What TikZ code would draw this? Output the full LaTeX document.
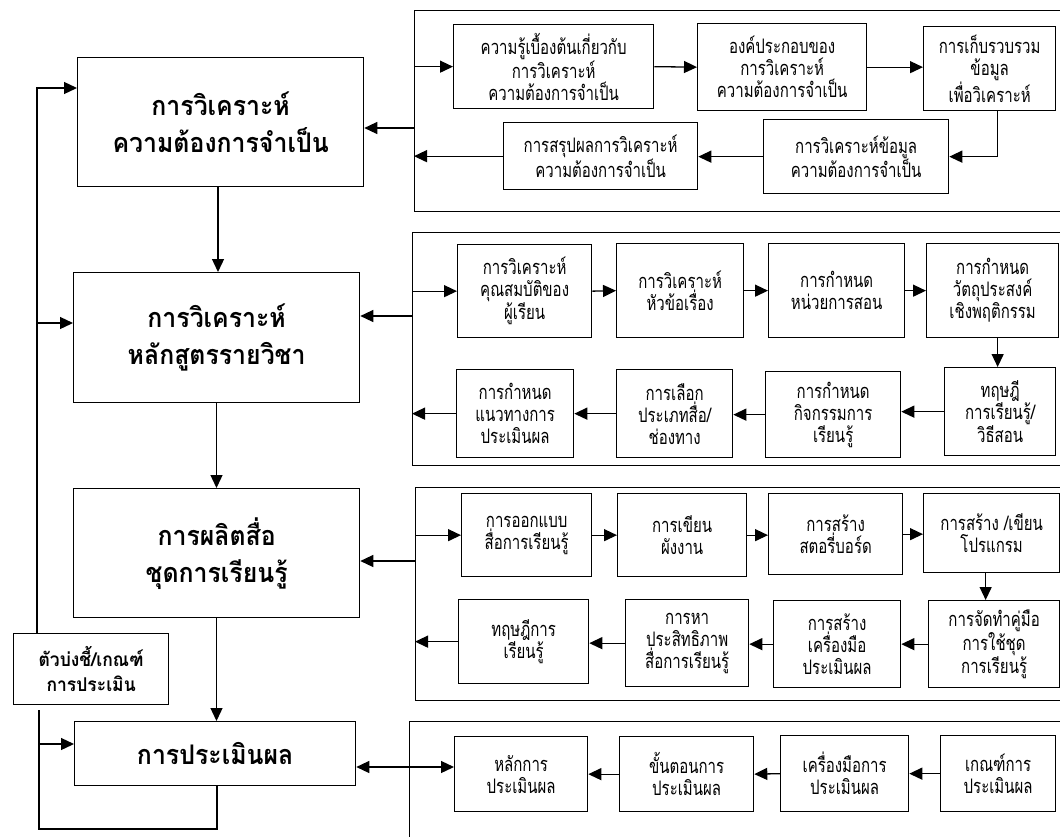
\documentclass[tikz,border=0pt]{standalone}
\usepackage{fontspec}
\usetikzlibrary{arrows.meta}
\newfontfamily\thai[Script=Thai,FakeStretch=0.92]{Loma}
\newfontfamily\thain[Script=Thai,FakeStretch=0.75]{Loma}
\tikzset{
  box/.style={draw, line width=1.3pt, align=center, inner sep=0pt, anchor=north west,
    font=\thain\fontsize{20}{22}\selectfont},
  mbox/.style={box, font=\thai\bfseries\fontsize{27}{37}\selectfont},
  kbox/.style={box, font=\thai\bfseries\fontsize{19}{25}\selectfont},
  panel/.style={draw, line width=1.3pt, inner sep=0pt, anchor=north west},
  ln/.style={line width=1.3pt},
  arr/.style={line width=1.3pt, -{Triangle[length=13pt,width=12pt]}},
  darr/.style={line width=1.3pt, {Triangle[length=13pt,width=12pt]}-{Triangle[length=13pt,width=12pt]}},
}
\begin{document}
\begin{tikzpicture}[x=1pt,y=-1pt]
\fill[white] (0,0) rectangle (1060,836);
\useasboundingbox (0,0) rectangle (1060,836);

% main column
\node[mbox, minimum width=286, minimum height=129] (M1) at (77,57) {การวิเคราะห์\\ความต้องการจำเป็น};
\node[mbox, minimum width=286, minimum height=130] (M2) at (73,272) {การวิเคราะห์\\หลักสูตรรายวิชา};
\node[mbox, minimum width=286, minimum height=129] (M3) at (73,488) {การผลิตสื่อ\\ชุดการเรียนรู้};
\node[mbox, minimum width=281, minimum height=64] (M4) at (74,721) {การประเมินผล};
\node[kbox, minimum width=155, minimum height=71] (K) at (13,633) {ตัวบ่งชี้/เกณฑ์\\การประเมิน};

% panels
\node[panel, minimum width=650, minimum height=201] (P1) at (414,10) {};
\node[panel, minimum width=652, minimum height=233] (P2) at (412,232) {};
\node[panel, minimum width=649, minimum height=213] (P3) at (415,487) {};
\node[panel, minimum width=655, minimum height=140] (P4) at (409,721) {};

% panel 1
\node[box, minimum width=200, minimum height=84] (A1) at (453,24) {ความรู้เบื้องต้นเกี่ยวกับ\\การวิเคราะห์\\ความต้องการจำเป็น};
\node[box, minimum width=169, minimum height=87] (A2) at (697,23) {องค์ประกอบของ\\การวิเคราะห์\\ความต้องการจำเป็น};
\node[box, minimum width=132, minimum height=84] (A3) at (923,26) {การเก็บรวบรวม\\ข้อมูล\\เพื่อวิเคราะห์};
\node[box, minimum width=185, minimum height=74] (A4) at (763,119) {การวิเคราะห์ข้อมูล\\ความต้องการจำเป็น};
\node[box, minimum width=194, minimum height=67] (A5) at (503,122) {การสรุปผลการวิเคราะห์\\ความต้องการจำเป็น};

% panel 2
\node[box, minimum width=134, minimum height=93] (B1) at (457,244) {การวิเคราะห์\\คุณสมบัติของ\\ผู้เรียน};
\node[box, minimum width=127, minimum height=94] (B2) at (616,243) {การวิเคราะห์\\หัวข้อเรื่อง};
\node[box, minimum width=136, minimum height=94] (B3) at (768,243) {การกำหนด\\หน่วยการสอน};
\node[box, minimum width=132, minimum height=94] (B4) at (926,243) {การกำหนด\\วัตถุประสงค์\\เชิงพฤติกรรม};
\node[box, minimum width=111, minimum height=88] (B5) at (944,367) {ทฤษฎี\\การเรียนรู้/\\วิธีสอน};
\node[box, minimum width=135, minimum height=86] (B6) at (765,371) {การกำหนด\\กิจกรรมการ\\เรียนรู้};
\node[box, minimum width=116, minimum height=88] (B7) at (616,369) {การเลือก\\ประเภทสื่อ/\\ช่องทาง};
\node[box, minimum width=117, minimum height=88] (B8) at (456,369) {การกำหนด\\แนวทางการ\\ประเมินผล};

% panel 3
\node[box, minimum width=130, minimum height=83] (C1) at (461,493) {การออกแบบ\\สื่อการเรียนรู้};
\node[box, minimum width=129, minimum height=83] (C2) at (617,493) {การเขียน\\ผังงาน};
\node[box, minimum width=134, minimum height=81] (C3) at (768,493) {การสร้าง\\สตอรี่บอร์ด};
\node[box, minimum width=136, minimum height=79] (C4) at (923,493) {การสร้าง /เขียน\\โปรแกรม};
\node[box, minimum width=131, minimum height=87] (C5) at (928,600) {การจัดทำคู่มือ\\การใช้ชุด\\การเรียนรู้};
\node[box, minimum width=127, minimum height=87] (C6) at (773,600) {การสร้าง\\เครื่องมือ\\ประเมินผล};
\node[box, minimum width=123, minimum height=87] (C7) at (625,599) {การหา\\ประสิทธิภาพ\\สื่อการเรียนรู้};
\node[box, minimum width=130, minimum height=84] (C8) at (458,599) {ทฤษฎีการ\\เรียนรู้};

% panel 4
\node[box, minimum width=133, minimum height=75] (D1) at (454,736) {หลักการ\\ประเมินผล};
\node[box, minimum width=134, minimum height=75] (D2) at (619,736) {ขั้นตอนการ\\ประเมินผล};
\node[box, minimum width=128, minimum height=76] (D3) at (780,735) {เครื่องมือการ\\ประเมินผล};
\node[box, minimum width=115, minimum height=76] (D4) at (940,735) {เกณฑ์การ\\ประเมินผล};

% helper coordinates
\coordinate (y88) at (0,88);
\coordinate (y128) at (0,128);
\coordinate (y316) at (0,316);
\coordinate (y561) at (0,561);
\coordinate (y744) at (0,744);
\coordinate (y767) at (0,767);
\coordinate (x37) at (37,0);
\coordinate (x218) at (218,0);
\coordinate (x216) at (216.5,0);
\coordinate (j2) at (37,323);
\coordinate (b1) at (217,829);
\coordinate (b2) at (39,829);

% main flow
\draw[arr] (M1.south -| x218) -- (M2.north -| x218);
\draw[arr] (M2.south -| x216) -- (M3.north -| x216);
\draw[arr] (M3.south -| x216) -- (M4.north -| x216);

% feedback left
\draw[arr] (K.north -| x37) |- (M1.west |- y88);
\draw[arr] (j2) -- (M2.west |- j2);
\draw[ln] (M4.south -| b1) -- (b1) -- (b2) -- ([yshift=-5pt]K.south -| b2);
\draw[arr] (b2 |- y744) -- (M4.west |- y744);

% panel 1 connectors
\draw[arr] (P1.west |- A1.west) -- (A1.west);
\draw[arr] (A1.east) -- (A2.west);
\draw[arr] (A2.east) -- (A3.west |- A2.east);
\draw[arr] ([xshift=8pt]A3.south) |- (A4.east);
\draw[arr] (A4.west) -- (A5.east |- A4.west);
\draw[arr] (A5.west) -- (P1.west |- A5.west);
\draw[arr] (P1.west |- y128) -- (M1.east |- y128);

% panel 2 connectors
\draw[arr] (P2.west |- B1.west) -- (B1.west);
\draw[arr] (B1.east) -- (B2.west);
\draw[arr] (B2.east) -- (B3.west);
\draw[arr] (B3.east) -- (B4.west);
\draw[arr] ([xshift=5pt]B4.south) -- ([xshift=5pt]B4.south |- B5.north);
\draw[arr] (B5.west) -- (B6.east |- B5.west);
\draw[arr] (B6.west) -- (B7.east |- B6.west);
\draw[arr] (B7.west) -- (B8.east);
\draw[arr] (B8.west) -- (P2.west |- B8.west);
\draw[arr] (P2.west |- y316) -- (M2.east |- y316);

% panel 3 connectors
\draw[arr] (P3.west |- C1.west) -- (C1.west);
\draw[arr] (C1.east) -- (C2.west);
\draw[arr] (C2.east) -- (C3.west |- C2.east);
\draw[arr] (C3.east) -- (C4.west |- C3.east);
\draw[arr] ([xshift=-6pt]C4.south) -- ([xshift=-6pt]C4.south |- C5.north);
\draw[arr] (C5.west) -- (C6.east);
\draw[arr] (C6.west) -- (C7.east |- C6.west);
\draw[arr] (C7.west) -- (C8.east |- C7.west);
\draw[arr] (C8.west) -- (P3.west |- C8.west);
\draw[arr] (P3.west |- y561) -- (M3.east |- y561);

% panel 4 connectors
\draw[arr] (D4.west) -- (D3.east);
\draw[arr] (D3.west) -- (D2.east);
\draw[arr] (D2.west) -- (D1.east);
\draw[darr] (M4.east |- y767) -- (D1.west |- y767);
\end{tikzpicture}
\end{document}
